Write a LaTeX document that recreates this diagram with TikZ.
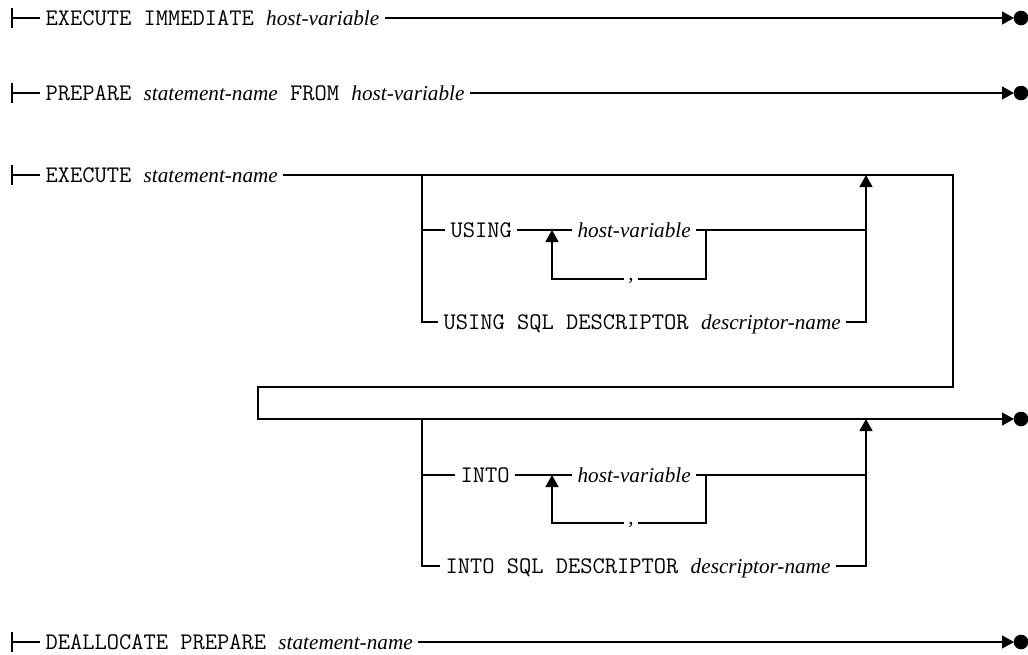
\documentclass[tikz,border=0pt]{standalone}
\usepackage{fontspec}
\newfontfamily\myseriffont{Liberation Serif}
\usetikzlibrary{arrows.meta}
\newcommand{\mykw}[1]{{\ttfamily\fontsize{23.8}{26}\selectfont #1}}
\newcommand{\myvar}[1]{{\myseriffont\itshape\fontsize{21.2}{24}\selectfont #1}}
\begin{document}
\begin{tikzpicture}[x=1pt,y=-1pt,line width=1.2pt,
  lbl/.style={inner xsep=5pt, inner ysep=0pt, text height=15pt, text depth=1pt, anchor=west},
  cma/.style={inner xsep=4pt, inner ysep=0pt, text height=4pt, text depth=2pt, anchor=center},
  tip/.style={-{Triangle[length=12pt,width=13pt]}},
  startbar/.style={line width=1.2pt}
]
\useasboundingbox (0,0) rectangle (1028,654);

% ---------- row 1
\coordinate (s1) at (12,18);
\coordinate (e1) at (1021,18);
\node[lbl] (r1) at (40,18) {\mykw{EXECUTE IMMEDIATE }\myvar{host-variable}};
\draw[startbar] ([yshift=10pt]s1) -- ([yshift=-10pt]s1);
\draw (s1) -- (r1.west);
\draw[tip] (r1.east) -- ([xshift=-7pt]e1);
\fill (e1) circle (7.3pt);

% ---------- row 2
\coordinate (s2) at (12,93);
\coordinate (e2) at (1021,93);
\node[lbl] (r2) at (40,93) {\mykw{PREPARE }\myvar{statement-name}\mykw{ FROM }\myvar{host-variable}};
\draw[startbar] ([yshift=10pt]s2) -- ([yshift=-10pt]s2);
\draw (s2) -- (r2.west);
\draw[tip] (r2.east) -- ([xshift=-7pt]e2);
\fill (e2) circle (7.3pt);

% ---------- row 3
\coordinate (s3) at (12,175);
\coordinate (c1) at (953,175);
\coordinate (c2) at (953,387);
\coordinate (c3) at (258,387);
\coordinate (c4) at (258,419);
\coordinate (e3) at (1021,419);
\node[lbl] (r3) at (40,175) {\mykw{EXECUTE }\myvar{statement-name}};
\draw[startbar] ([yshift=10pt]s3) -- ([yshift=-10pt]s3);
\draw (s3) -- (r3.west);
\draw[tip] (r3.east) -- (c1) -- (c2) -- (c3) -- (c4) -- ([xshift=-7pt]e3);
\fill (e3) circle (7.3pt);

% USING block
\coordinate (ua) at (422,175);
\coordinate (ub) at (866,175);
\coordinate (ul) at (552,230);
\coordinate (ur) at (706,230);
\node[lbl] (using) at (445,230) {\mykw{USING}};
\node[lbl] (uhv) at (572,230) {\myvar{host-variable}};
\node[cma] (uc) at (631,279) {\myvar{,}};
\node[lbl] (usd) at (438,322) {\mykw{USING SQL DESCRIPTOR }\myvar{descriptor-name}};
\draw (ua) |- (usd.west);
\draw (ua |- using.west) -- (using.west);
\draw (using.east) -- (uhv.west);
\draw (uhv.east) -- (ub |- uhv.west);
\draw[tip] (usd.east) -| (ub);
\draw (ur) |- (uc.east);
\draw[tip] (uc.west) -| (ul);

% INTO block
\coordinate (ia) at (422,419);
\coordinate (ib) at (866,419);
\coordinate (il) at (552,475);
\coordinate (ir) at (706,475);
\node[lbl] (into) at (455,475) {\mykw{INTO}};
\node[lbl] (ihv) at (572,475) {\myvar{host-variable}};
\node[cma] (ic) at (631,523) {\myvar{,}};
\node[lbl] (isd) at (440,566) {\mykw{INTO SQL DESCRIPTOR }\myvar{descriptor-name}};
\draw (ia) |- (isd.west);
\draw (ia |- into.west) -- (into.west);
\draw (into.east) -- (ihv.west);
\draw (ihv.east) -- (ib |- ihv.west);
\draw[tip] (isd.east) -| (ib);
\draw (ir) |- (ic.east);
\draw[tip] (ic.west) -| (il);

% ---------- row 4
\coordinate (s4) at (12,642);
\coordinate (e4) at (1021,642);
\node[lbl] (r4) at (40,642) {\mykw{DEALLOCATE PREPARE }\myvar{statement-name}};
\draw[startbar] ([yshift=10pt]s4) -- ([yshift=-10pt]s4);
\draw (s4) -- (r4.west);
\draw[tip] (r4.east) -- ([xshift=-7pt]e4);
\fill (e4) circle (7.3pt);
\end{tikzpicture}
\end{document}
